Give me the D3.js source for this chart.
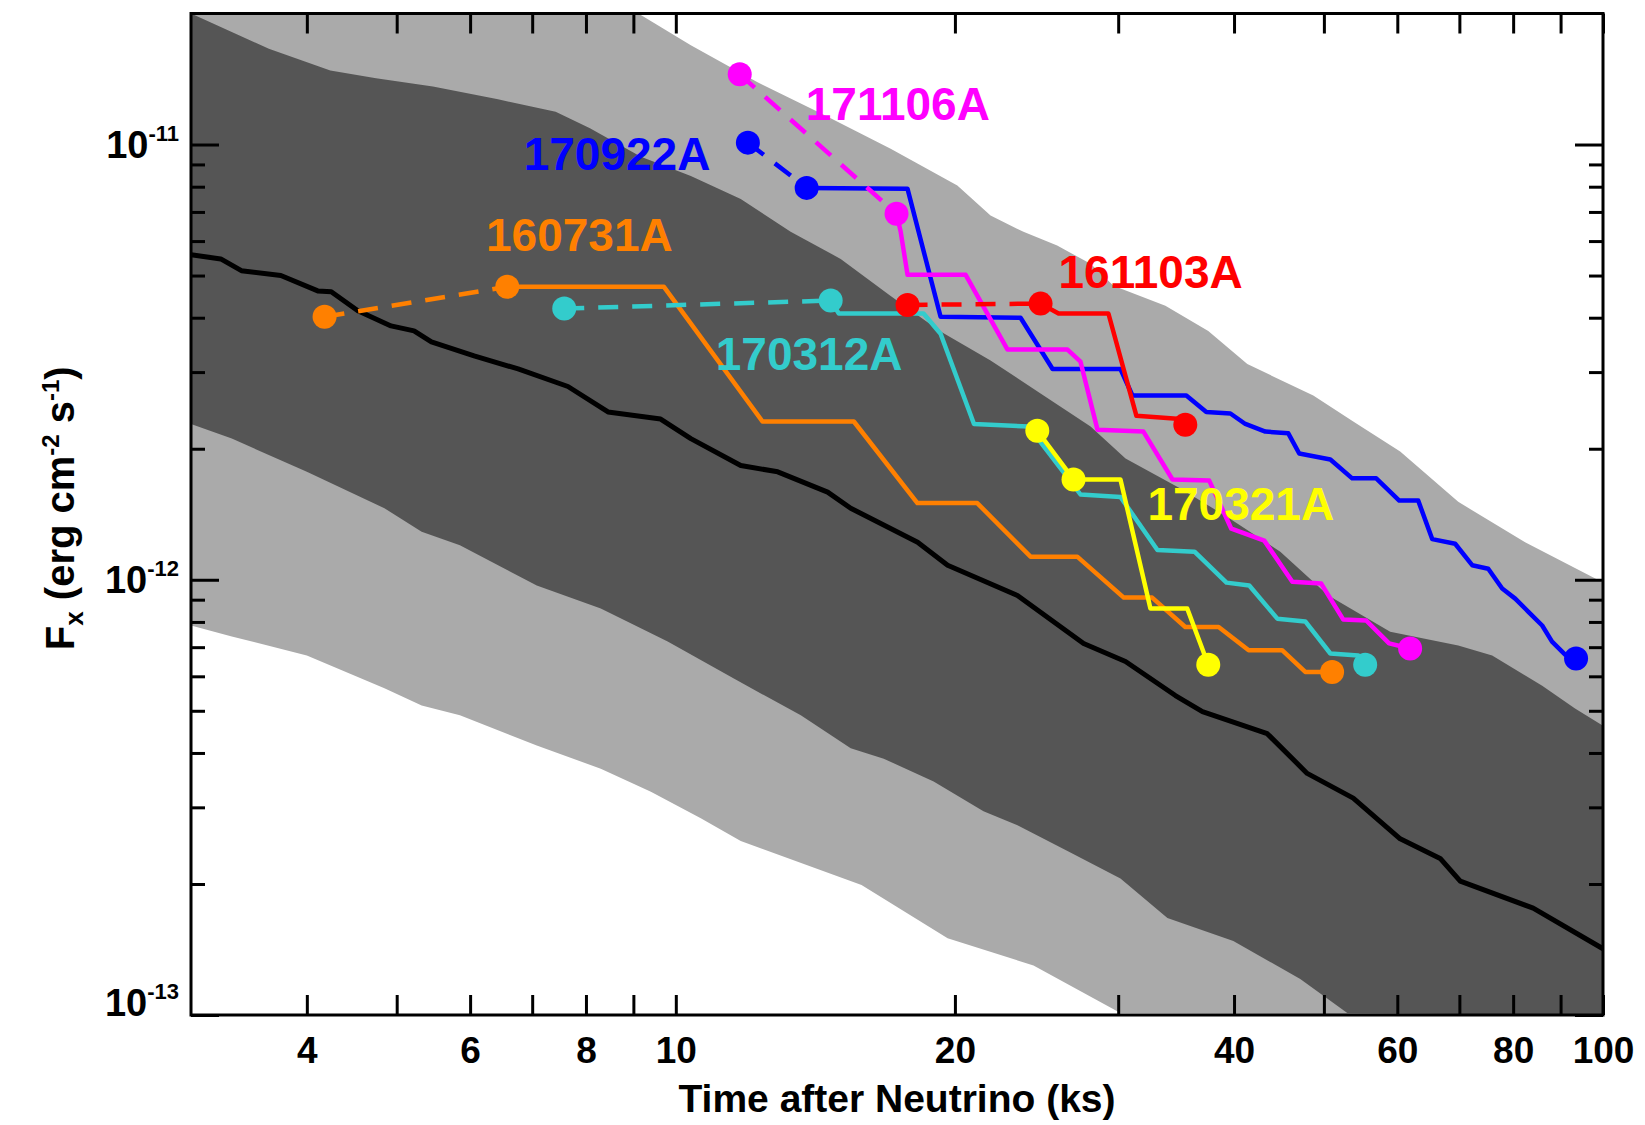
<!DOCTYPE html>
<html><head><meta charset="utf-8">
<script src="https://cdn.jsdelivr.net/npm/d3@7"></script>
<style>
body{margin:0;background:#fff}
svg{display:block}
text{font-family:"Liberation Sans",Arial,Helvetica,sans-serif;font-weight:bold}
</style>
</head><body>
<svg id="chart" width="1645" height="1125"></svg>
<script>
// ---------------- DATA ----------------
const xTicks = [4,5,6,7,8,9,10,20,30,40,50,60,70,80,90,100];
const xTickLabels = [4,6,8,10,20,40,60,80,100];
const yMajor = [1e-13,1e-12,1e-11];
const yMajorExp = ["-13","-12","-11"];
const yMinor = [2e-13,3e-13,4e-13,5e-13,6e-13,7e-13,8e-13,9e-13,2e-12,3e-12,4e-12,5e-12,6e-12,7e-12,8e-12,9e-12];

// median (black) and bands
const medianT = [3.0,3.23,3.40,3.75,4.11,4.25,4.54,4.93,5.22,5.45,6.06,6.76,7.65,8.45,9.63,10.38,11.75,12.88,14.58,15.44,18.23,19.64,23.36,27.53,30.55,34.58,36.98,43.44,47.97,53.78,60.43,66.74,70.15,84.08,100];
const medianF = [5.58e-12,5.46e-12,5.13e-12,5.00e-12,4.61e-12,4.59e-12,4.15e-12,3.83e-12,3.73e-12,3.52e-12,3.27e-12,3.05e-12,2.78e-12,2.43e-12,2.34e-12,2.11e-12,1.83e-12,1.77e-12,1.59e-12,1.46e-12,1.22e-12,1.08e-12,9.20e-13,7.14e-13,6.49e-13,5.42e-13,4.98e-13,4.43e-13,3.59e-13,3.15e-13,2.54e-13,2.29e-13,2.03e-13,1.76e-13,1.42e-13];

const lightUpT = [3,8.94,10.38,12.25,14.44,17.05,20.12,21.85,23.71,25.78,28.01,29.65,33.73,37.52,41.34,48.70,53.78,60.43,69.80,82.41,100];
const lightUpF = [2.05e-11,2.05e-11,1.69e-11,1.39e-11,1.17e-11,9.78e-12,8.05e-12,6.87e-12,6.30e-12,5.86e-12,5.32e-12,4.74e-12,4.26e-12,3.73e-12,3.13e-12,2.65e-12,2.31e-12,1.97e-12,1.51e-12,1.22e-12,9.85e-13];
const lightLoT = [3,3.32,4.00,4.85,5.32,5.85,7.08,8.30,9.40,10.64,11.75,15.86,19.64,24.31,30.17,100];
const lightLoF = [7.85e-13,7.41e-13,6.70e-13,5.63e-13,5.14e-13,4.88e-13,4.16e-13,3.68e-13,3.26e-13,2.83e-13,2.51e-13,1.99e-13,1.50e-13,1.30e-13,1.01e-13,1e-13];

const darkUpT = [3,3.64,4.24,4.75,5.47,6.43,7.42,8.08,9.17,10.38,11.75,13.30,15.06,17.05,19.30,21.85,24.74,28.01,30.55,35.01,39.64,44.87,50.56,58.95,69.80,75.94,85.98,93.29,100];
const darkUpF = [2.0e-11,1.66e-11,1.48e-11,1.42e-11,1.36e-11,1.27e-11,1.19e-11,1.09e-11,9.37e-12,8.47e-12,7.50e-12,6.30e-12,5.46e-12,4.49e-12,3.72e-12,3.19e-12,2.68e-12,2.25e-12,1.90e-12,1.62e-12,1.38e-12,1.16e-12,9.20e-13,7.60e-13,7.06e-13,6.70e-13,5.71e-13,5.06e-13,4.62e-13];
const darkLoT = [3,3.32,4.00,4.85,5.32,5.85,7.08,8.30,9.80,11.55,13.64,15.44,16.76,18.97,21.47,23.36,26.45,30.17,33.90,39.93,47.15,52.99,100];
const darkLoF = [2.28e-12,2.11e-12,1.77e-12,1.46e-12,1.29e-12,1.20e-12,9.70e-13,8.59e-13,7.21e-13,5.93e-13,4.88e-13,4.10e-13,3.88e-13,3.44e-13,2.94e-13,2.73e-13,2.38e-13,2.06e-13,1.67e-13,1.48e-13,1.21e-13,1.01e-13,1e-13];

// GRB series
const names = ["160731A","170312A","170922A","171106A","161103A","170321A"];
const colors = ["#ff8000","#33cccc","#0000ff","#ff00ff","#ff0000","#ffff00"];

const orangeDashT = [4.18,6.58], orangeDashF = [4.02e-12,4.71e-12];
const orangeT = [6.58,9.71,12.40,15.56,18.22,21.14,24.13,27.10,30.42,32.64,35.44,38.50,41.48,45.07,47.74,51.03];
const orangeF = [4.71e-12,4.71e-12,2.31e-12,2.31e-12,1.50e-12,1.50e-12,1.13e-12,1.13e-12,9.10e-13,9.10e-13,7.79e-13,7.79e-13,6.89e-13,6.89e-13,6.14e-13,6.14e-13];
const orangePtT = [4.18,6.58,51.03], orangePtF = [4.02e-12,4.71e-12,6.14e-13];

const cyanDashT = [7.58,14.69], cyanDashF = [4.20e-12,4.38e-12];
const cyanT = [14.69,14.99,18.50,19.30,20.97,24.01,27.32,30.17,33.07,36.26,39.26,41.54,44.54,47.74,50.81,54.45,55.40];
const cyanF = [4.38e-12,4.09e-12,4.09e-12,3.675e-12,2.28e-12,2.25e-12,1.57e-12,1.55e-12,1.17e-12,1.16e-12,9.85e-13,9.70e-13,8.14e-13,8.02e-13,6.77e-13,6.70e-13,6.38e-13];
const cyanPtT = [7.58,14.69,55.40], cyanPtF = [4.20e-12,4.38e-12,6.38e-13];

const blueDashT = [11.96,13.84], blueDashF = [1.01e-11,7.95e-12];
const blueT = [13.84,17.78,19.30,23.54,25.49,30.17,31.08,35.53,37.34,39.64,41.14,43.23,45.77,47.03,50.81,53.64,56.94,60.29,63.20,65.43,69.27,72.26,75.20,77.85,80.41,83.04,85.98,88.11,91.02,93.53];
const blueF = [7.95e-12,7.91e-12,4.02e-12,4.00e-12,3.05e-12,3.05e-12,2.65e-12,2.65e-12,2.43e-12,2.41e-12,2.28e-12,2.19e-12,2.17e-12,1.95e-12,1.89e-12,1.71e-12,1.71e-12,1.52e-12,1.52e-12,1.24e-12,1.21e-12,1.08e-12,1.06e-12,9.55e-13,9.05e-13,8.45e-13,7.85e-13,7.21e-13,6.73e-13,6.59e-13];
const bluePtT = [11.96,13.84,93.53], bluePtF = [1.01e-11,7.95e-12,6.59e-13];

const magentaDashT = [11.72,17.30], magentaDashF = [1.45e-11,6.93e-12];
const magentaT = [17.30,17.48,17.78,20.54,22.79,26.45,27.32,28.50,31.94,34.33,37.61,39.73,43.12,46.23,49.67,52.47,55.54,58.79,61.94];
const magentaF = [6.93e-12,6.30e-12,5.02e-12,5.02e-12,3.38e-12,3.38e-12,3.17e-12,2.21e-12,2.19e-12,1.70e-12,1.69e-12,1.31e-12,1.23e-12,9.90e-13,9.80e-13,8.10e-13,8.06e-13,7.14e-13,6.95e-13];
const magentaPtT = [11.72,17.30,61.94], magentaPtF = [1.45e-11,6.93e-12,6.95e-13];

const redDashT = [17.78,24.74], redDashF = [4.28e-12,4.31e-12];
const redT = [24.74,25.87,29.28,31.39,35.01,35.44];
const redF = [4.31e-12,4.09e-12,4.09e-12,2.38e-12,2.34e-12,2.27e-12];
const redPtT = [17.78,24.74,35.44], redPtF = [4.28e-12,4.31e-12,2.27e-12];

const yellowDashT = [], yellowDashF = [];
const yellowT = [24.54,26.85,30.17,32.50,35.61,37.52];
const yellowF = [2.20e-12,1.70e-12,1.70e-12,8.59e-13,8.59e-13,6.38e-13];
const yellowPtT = [24.54,26.85,37.52], yellowPtF = [2.20e-12,1.70e-12,6.38e-13];

// label anchors (left edge, baseline) in data units
const labelT = [6.32,11.18,6.94,13.98,26.19,32.66];
const labelF = [5.70e-12,3.04e-12,8.75e-12,1.14e-11,4.69e-12,1.37e-12];

// ---------------- DRAW ----------------
const zip = (a,b) => a.map((v,i)=>[v,b[i]]);
const L = 191, R = 1603, T = 13.5, B = 1015;
const x = d3.scaleLog().domain([3,100]).range([L,R]);
const y = d3.scaleLog().domain([1e-13,2e-11]).range([B,T]);
const svg = d3.select("#chart");

svg.append("defs").append("clipPath").attr("id","plotclip")
  .append("rect").attr("x",L).attr("y",T).attr("width",R-L).attr("height",B-T);

const line = d3.line().x(d=>x(d[0])).y(d=>y(d[1]));
const band = (uT,uF,lT,lF) => line(zip(uT,uF).concat(zip(lT,lF).reverse())) + "Z";

const plot = svg.append("g").attr("clip-path","url(#plotclip)");
plot.append("path").attr("d",band(lightUpT,lightUpF,lightLoT,lightLoF)).attr("fill","#aaaaaa");
plot.append("path").attr("d",band(darkUpT,darkUpF,darkLoT,darkLoF)).attr("fill","#555555");
plot.append("path").attr("d",line(zip(medianT,medianF))).attr("fill","none")
  .attr("stroke","#000").attr("stroke-width",5).attr("stroke-linejoin","round");

const series = [
  {dT:orangeDashT,dF:orangeDashF,T:orangeT,F:orangeF,pT:orangePtT,pF:orangePtF,c:colors[0]},
  {dT:cyanDashT,dF:cyanDashF,T:cyanT,F:cyanF,pT:cyanPtT,pF:cyanPtF,c:colors[1]},
  {dT:blueDashT,dF:blueDashF,T:blueT,F:blueF,pT:bluePtT,pF:bluePtF,c:colors[2]},
  {dT:magentaDashT,dF:magentaDashF,T:magentaT,F:magentaF,pT:magentaPtT,pF:magentaPtF,c:colors[3]},
  {dT:redDashT,dF:redDashF,T:redT,F:redF,pT:redPtT,pF:redPtF,c:colors[4]},
  {dT:yellowDashT,dF:yellowDashF,T:yellowT,F:yellowF,pT:yellowPtT,pF:yellowPtF,c:colors[5]}
];
series.forEach(s=>{
  const g = plot.append("g");
  if (s.dT.length) g.append("path").attr("d",line(zip(s.dT,s.dF))).attr("fill","none")
      .attr("stroke",s.c).attr("stroke-width",4.5).attr("stroke-dasharray","20,14");
  g.append("path").attr("d",line(zip(s.T,s.F))).attr("fill","none")
      .attr("stroke",s.c).attr("stroke-width",4.5).attr("stroke-linejoin","round");
  g.selectAll("circle").data(zip(s.pT,s.pF)).join("circle")
      .attr("cx",d=>x(d[0])).attr("cy",d=>y(d[1])).attr("r",12).attr("fill",s.c);
});

// labels
svg.append("g").selectAll("text").data(names).join("text")
  .attr("x",(d,i)=>x(labelT[i])-5).attr("y",(d,i)=>y(labelF[i]))
  .attr("fill",(d,i)=>colors[i]).attr("font-size",46).text(d=>d);

// frame
svg.append("rect").attr("x",L).attr("y",T).attr("width",R-L).attr("height",B-T)
  .attr("fill","none").attr("stroke","#000").attr("stroke-width",3);

// x axes
const fmtX = d => xTickLabels.includes(d) ? String(d) : "";
const xb = svg.append("g").attr("transform",`translate(0,${B})`)
  .call(d3.axisBottom(x).tickValues(xTicks).tickFormat(fmtX).tickSize(-20).tickPadding(22));
xb.select(".domain").remove();
xb.selectAll("line").attr("stroke","#000").attr("stroke-width",3);
xb.selectAll("text").attr("font-size",37).attr("fill","#000")
  .attr("font-family","Liberation Sans, Arial, sans-serif").attr("font-weight","bold");
const xt = svg.append("g").attr("transform",`translate(0,${T})`)
  .call(d3.axisTop(x).tickValues(xTicks).tickFormat("").tickSize(-20));
xt.select(".domain").remove();
xt.selectAll("line").attr("stroke","#000").attr("stroke-width",3);

// y axes
function yAxes(axisFn, xpos){
  const gM = svg.append("g").attr("transform",`translate(${xpos},0)`)
    .call(axisFn(y).tickValues(yMajor).tickFormat("").tickSize(-28));
  const gm = svg.append("g").attr("transform",`translate(${xpos},0)`)
    .call(axisFn(y).tickValues(yMinor).tickFormat("").tickSize(-14));
  [gM,gm].forEach(g=>{g.select(".domain").remove(); g.selectAll("line").attr("stroke","#000").attr("stroke-width",3);});
}
yAxes(d3.axisLeft, L);
yAxes(d3.axisRight, R);

// y tick labels with superscripts
const yl = svg.append("g").selectAll("text").data(yMajor).join("text")
  .attr("x",L-12).attr("y",d=> y(d) + (d===y.domain()[0] ? 1 : 13))
  .attr("text-anchor","end").attr("fill","#000").attr("font-size",38);
yl.append("tspan").text("10");
yl.append("tspan").attr("dy",-17).attr("font-size",22).text((d,i)=>yMajorExp[i]);

// axis titles
svg.append("text").attr("x",(L+R)/2).attr("y",1112).attr("text-anchor","middle")
  .attr("font-size",39).attr("fill","#000").text("Time after Neutrino (ks)");

const yt = svg.append("text").attr("transform",`translate(74,${(T+B)/2 - 6}) rotate(-90)`)
  .attr("text-anchor","middle").attr("font-size",40).attr("fill","#000");
yt.append("tspan").text("F");
yt.append("tspan").attr("dy",9).attr("font-size",26).text("x");
yt.append("tspan").attr("dy",-9).text(" (erg cm");
yt.append("tspan").attr("dy",-15).attr("font-size",24).text("-2");
yt.append("tspan").attr("dy",15).text(" s");
yt.append("tspan").attr("dy",-15).attr("font-size",24).text("-1");
yt.append("tspan").attr("dy",15).text(")");
</script>
</body></html>
